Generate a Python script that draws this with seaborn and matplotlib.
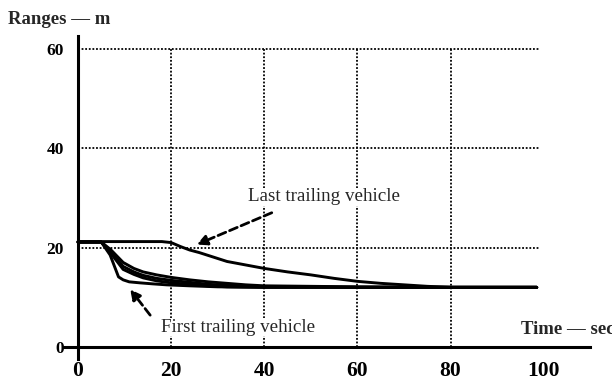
import matplotlib
matplotlib.use("Agg")
import matplotlib.pyplot as plt
import seaborn as sns
import pandas as pd

# Range to the preceding vehicle (m) versus time (s) for each trailing vehicle
t_first = [0, 5, 6.9, 8.7, 9.7, 11, 13.3, 16, 19, 24, 30, 40, 60, 80, 98.5]
r_first = [21.1, 21.1, 18.5, 14.1, 13.5, 13.1, 12.9, 12.7, 12.5, 12.3, 12.1, 12.0, 12.0, 12.0, 12.0]

t_second = [0, 5, 7, 9.7, 12, 14, 16.9, 20, 24, 28, 32, 36, 40, 60, 80, 98.5]
r_second = [21.1, 21.1, 19.6, 17.0, 15.8, 15.1, 14.5, 14.0, 13.5, 13.1, 12.8, 12.5, 12.3, 12.1, 12.0, 12.0]

t_third = [0, 5, 7, 9.7, 12, 14, 16.9, 20, 24, 28, 32, 36, 40, 60, 80, 98.5]
r_third = [21.1, 21.1, 19.2, 16.2, 15.1, 14.4, 13.8, 13.4, 13.0, 12.6, 12.4, 12.2, 12.1, 12.0, 12.0, 12.0]

t_fourth = [0, 5, 7, 9.7, 12, 14, 16.9, 20, 24, 28, 32, 40, 60, 80, 98.5]
r_fourth = [21.1, 21.1, 18.9, 15.6, 14.6, 13.9, 13.3, 12.9, 12.6, 12.3, 12.1, 12.0, 12.0, 12.0, 12.0]

t_last = [0, 18, 20, 22, 24, 26, 28, 32, 36, 40, 45, 50, 55, 60, 65, 70, 75, 80, 90, 98.5]
r_last = [21.2, 21.2, 21.0, 20.2, 19.5, 19.0, 18.4, 17.2, 16.5, 15.8, 15.1, 14.5, 13.8, 13.2, 12.8, 12.5, 12.2, 12.0, 12.0, 12.0]

vehicles = ["first", "second", "third", "fourth", "last"]
times = [t_first, t_second, t_third, t_fourth, t_last]
ranges = [r_first, r_second, r_third, r_fourth, r_last]

x_ticks = [0, 20, 40, 60, 80, 100]
y_ticks = [0, 20, 40, 60]
grid_x = [20, 40, 60, 80]
grid_y = [20, 40, 60]

frames = []
for name, t, r in zip(vehicles, times, ranges):
    frames.append(pd.DataFrame({"time": t, "range": r, "vehicle": name}))
df = pd.concat(frames, ignore_index=True)

sns.set_style("white")
plt.rcParams["font.family"] = ["Liberation Serif", "DejaVu Serif"]

fig = plt.figure(figsize=(6.12, 3.87), dpi=100)
ax = fig.add_axes([0.1046, 0.0713, 0.860, 0.835])

# dotted reference grid, limited to the plotted region
for gx in grid_x:
    ax.plot([gx, gx], [0, 60], color="black", lw=1.3, ls=(0, (1, 1)), zorder=1)
for gy in grid_y:
    ax.plot([0, 99], [gy, gy], color="black", lw=1.3, ls=(0, (1, 1)), zorder=1)

sns.lineplot(data=df, x="time", y="range", hue="vehicle", units="vehicle",
             estimator=None, sort=False, palette=["black"] * len(vehicles),
             legend=False, lw=2.1, ax=ax, zorder=3)

ax.set_xlim(-3, 110)
ax.set_ylim(-2.5, 62.5)
ax.spines["left"].set_position(("data", 0))
ax.spines["bottom"].set_position(("data", 0))
ax.spines["top"].set_visible(False)
ax.spines["right"].set_visible(False)
for s in ("left", "bottom"):
    ax.spines[s].set_linewidth(2.2)
    ax.spines[s].set_color("black")

ax.set_xticks(x_ticks)
ax.set_yticks(y_ticks)
ax.set_xticklabels([str(v) for v in x_ticks], fontsize=15.5, fontweight="bold")
ax.set_yticklabels([str(v) for v in y_ticks], fontsize=12.5, fontweight="bold")
ax.tick_params(axis="x", direction="out", length=8, width=2.4, pad=2, colors="black")
ax.tick_params(axis="y", direction="out", length=7, width=2.4, pad=3, colors="black")
ax.set_xlabel("")
ax.set_ylabel("")

# annotations
box = dict(facecolor="white", edgecolor="none", pad=0.5)
ax.text(36.5, 30.2, "Last trailing vehicle", fontsize=13.7, va="center", ha="left",
        bbox=box, zorder=4)
ax.annotate("", xy=(25.5, 20.6), xytext=(41.6, 27.0),
            arrowprops=dict(arrowstyle="-|>", ls=(0, (3, 1.5)), lw=2.0,
                            color="black", mutation_scale=15, shrinkA=0, shrinkB=0),
            zorder=5)
ax.text(17.8, 4.0, "First trailing vehicle", fontsize=13.7, va="center", ha="left",
        bbox=box, zorder=4)
ax.annotate("", xy=(11.2, 11.6), xytext=(15.5, 6.4),
            arrowprops=dict(arrowstyle="-|>", ls=(0, (3, 1.5)), lw=2.0,
                            color="black", mutation_scale=15, shrinkA=0, shrinkB=0),
            zorder=5)

fig.text(8 / 612, 1 - 20 / 387, "Ranges \u2014 m", fontsize=13.5, fontweight="bold",
         va="center", ha="left")
fig.text(521 / 612, 1 - 330 / 387, "Time \u2014 sec", fontsize=13.5, fontweight="bold",
         va="center", ha="left")

fig.savefig("out.png", dpi=100)
